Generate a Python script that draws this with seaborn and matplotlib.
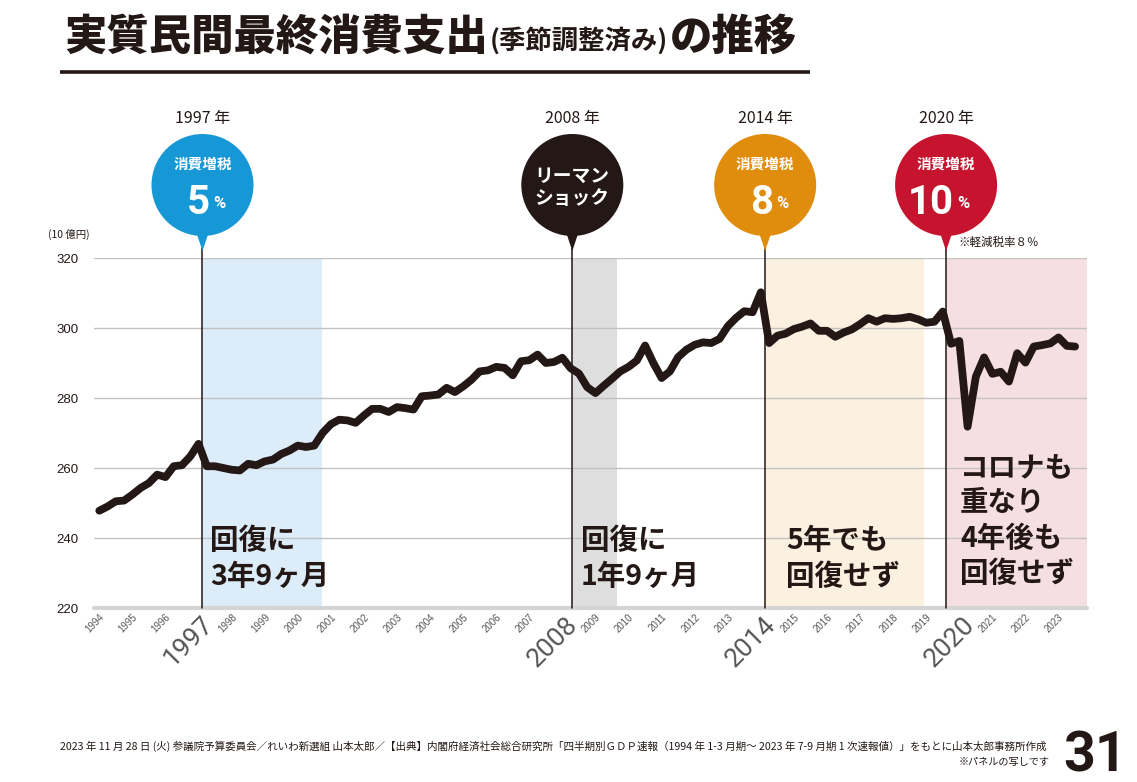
import numpy as np
import pandas as pd
import matplotlib
matplotlib.use("Agg")
import matplotlib.pyplot as plt
from matplotlib.patches import Circle, Polygon
import seaborn as sns

# ---------------- data ----------------
start_year = 1994
consumption = [
    247.8, 249.0, 250.5, 250.7, 252.4, 254.3, 255.7, 258.1, 257.4, 260.5,
    260.8, 263.3, 266.9, 260.5, 260.5, 260.0, 259.5, 259.3, 261.2, 260.8,
    261.9, 262.4, 264.0, 265.0, 266.4, 266.0, 266.4, 270.0, 272.5, 273.8,
    273.6, 272.9, 275.0, 276.9, 276.9, 276.0, 277.4, 277.1, 276.7, 280.5,
    280.7, 281.0, 282.9, 281.7, 283.3, 285.2, 287.6, 287.9, 288.9, 288.6,
    286.5, 290.5, 290.8, 292.4, 290.0, 290.3, 291.5, 288.5, 287.0, 283.1,
    281.4, 283.5, 285.5, 287.6, 288.9, 290.7, 295.0, 290.0, 285.7, 287.6,
    291.7, 293.8, 295.2, 295.9, 295.7, 296.9, 300.5, 302.9, 304.8, 304.5,
    310.2, 295.7, 297.8, 298.4, 299.7, 300.4, 301.3, 299.2, 299.2, 297.5,
    298.7, 299.6, 301.1, 302.8, 301.8, 302.8, 302.6, 302.8, 303.2, 302.5,
    301.5, 301.8, 304.7, 295.5, 296.3, 271.8, 286.1, 291.6, 286.9, 287.5,
    284.7, 292.8, 290.1, 294.7, 295.1, 295.6, 297.3, 294.9, 294.7,
]
tick_years = list(range(1994, 2024))
highlight_years = [1997, 2008, 2014, 2020]
y_ticks = [220, 240, 260, 280, 300, 320]

event_x = [1997.12, 2008.30, 2014.13, 2019.60]
event_end = [2000.72, 2009.66, 2018.93, 2023.86]
event_year_labels = ["1997 年", "2008 年", "2014 年", "2020 年"]
bubble_top = ["消費増税", "リーマン", "消費増税", "消費増税"]
bubble_main = ["5", "ショック", "8", "10"]
shade_colors = ["#dcecf8", "#dedede", "#fbf1e0", "#f6dfe3"]
bubble_colors = ["#1798d6", "#231815", "#e08c0c", "#c6132e"]
notes = ["回復に\n3年9ヶ月", "回復に\n1年9ヶ月", "5年でも\n回復せず", "コロナも\n重なり\n4年後も\n回復せず"]

title_main = "実質民間最終消費支出"
title_paren = "(季節調整済み)"
title_tail = "の推移"
footnote = ("2023 年 11 月 28 日 (火) 参議院予算委員会／れいわ新選組 山本太郎／【出典】内閣府経済社会総合研究所"
            "「四半期別ＧＤＰ速報（1994 年 1-3 月期～ 2023 年 7-9 月期 1 次速報値）」をもとに山本太郎事務所作成")
footnote2 = "※パネルの写しです"
page_no = "31"

# ---------------- style ----------------
sns.set_theme(style="white")
FAM = ["Noto Sans CJK JP", "DejaVu Sans"]
plt.rcParams["font.family"] = FAM
DARK = "#231815"
NUM = ["Roboto", "DejaVu Sans"]

W, H = 1137, 782
fig = plt.figure(figsize=(W / 100, H / 100), dpi=100)
fig.patch.set_facecolor("white")
L, R, T, B = 94, 1087, 258, 608
ax = fig.add_axes([L / W, 1 - B / H, (R - L) / W, (B - T) / H])
ov = fig.add_axes([0, 0, 1, 1], zorder=5)
ov.set_xlim(0, W)
ov.set_ylim(H, 0)
ov.axis("off")
ov.patch.set_alpha(0)

xmin, xmax = 1993.84, 2023.86
df = pd.DataFrame({
    "year": start_year + np.arange(len(consumption)) / 4.0,
    "value": consumption,
})

for x0, x1, c in zip(event_x, event_end, shade_colors):
    ax.axvspan(x0, x1, color=c, lw=0, zorder=0.2)
for x0 in event_x:
    ax.axvline(x0, ymin=0, ymax=1.03, color=DARK, lw=1.1, zorder=2, clip_on=False)

sns.lineplot(data=df, x="year", y="value", ax=ax, color=DARK, lw=5.6,
             solid_joinstyle="round", solid_capstyle="round", zorder=4)

ax.set_xlim(xmin, xmax)
ax.set_ylim(220, 320)
ax.set_yticks(y_ticks)
ax.set_yticklabels([str(v) for v in y_ticks], fontsize=9.5,
                   family=["Liberation Sans", "DejaVu Sans"], color=DARK)
ax.grid(axis="y", color="#c2c2c2", lw=1)
ax.grid(axis="x", visible=False)
ax.set_axisbelow(True)
for s in ax.spines.values():
    s.set_visible(False)
ax.axhline(220, color="#d4d4d4", lw=3, zorder=1, clip_on=False)
ax.set_xlabel("")
ax.set_ylabel("")
ax.tick_params(axis="y", length=0, pad=11)
ax.tick_params(axis="x", length=0, pad=3)

xt = [y + (0.08 if y in highlight_years else 0.0) for y in tick_years]
ax.set_xticks(xt)
ax.set_xticklabels([str(y) for y in tick_years])
for lab, y in zip(ax.get_xticklabels(), tick_years):
    lab.set_rotation(45)
    lab.set_ha("right")
    lab.set_va("top")
    lab.set_rotation_mode("anchor")
    if y in highlight_years:
        lab.set_fontsize(19)
        lab.set_family(NUM)
        lab.set_weight("normal")
        lab.set_color("#555555")
    else:
        lab.set_fontsize(7)
        lab.set_family(["Liberation Sans", "DejaVu Sans"])
        lab.set_color("#555555")


def xpx(x):
    return L + (x - xmin) / (xmax - xmin) * (R - L)


# bubbles and year labels
cy, r = 185, 51
for i, x0 in enumerate(event_x):
    px = xpx(x0)
    col = bubble_colors[i]
    ov.add_patch(Circle((px, cy), r, color=col, lw=0))
    ov.add_patch(Polygon([(px - 9, cy + r - 12), (px + 9, cy + r - 12), (px, 251)],
                         closed=True, color=col, lw=0))
    ov.text(px, 118, event_year_labels[i], ha="center", va="center",
            fontsize=11.5, color=DARK)
    if i == 1:
        ov.text(px, 176, bubble_top[i], ha="center", va="center", fontsize=13.5,
                color="white", weight="bold")
        ov.text(px, 199, bubble_main[i], ha="center", va="center", fontsize=13.5,
                color="white", weight="bold")
    else:
        ov.text(px, 164, bubble_top[i], ha="center", va="center", fontsize=10.5,
                color="white", weight="bold")
        ov.text(px + 8, 214, bubble_main[i], ha="right", va="baseline",
                fontsize=29, color="white", weight="bold", family=NUM)
        ov.text(px + 11, 208, "%", ha="left", va="baseline", fontsize=12,
                color="white", weight="bold", family=NUM)

ov.text(48, 234, "(10 億円)", ha="left", va="center", fontsize=7.5, color=DARK)
ov.text(958, 242, "※軽減税率８％", ha="left", va="center", fontsize=8.3, color=DARK)

# annotations inside chart
note_pos = [(210, 559), (581, 559), (786, 559), (960, 521)]
for (nx, ny), txt in zip(note_pos, notes):
    ov.text(nx, ny, txt, ha="left", va="center", fontsize=20.5, weight="bold",
            color=DARK, linespacing=1.33)

# title
rend = fig.canvas.get_renderer()
t1 = ov.text(64, 37, title_main, ha="left", va="center", fontsize=30.5,
             weight="heavy", color=DARK)
bb = t1.get_window_extent(rend)
t2 = fig.text((bb.x1 + 2) / W, 1 - 41 / H, title_paren, ha="left", va="center",
              fontsize=19, weight="bold", color=DARK)
bb2 = t2.get_window_extent(rend)
fig.text((bb2.x1 + 2) / W, 1 - 37 / H, title_tail, ha="left", va="center",
         fontsize=30.5, weight="heavy", color=DARK)
ov.plot([60, 810], [72, 72], color=DARK, lw=2.6, solid_capstyle="butt")

# footnote
ov.text(60, 746, footnote, ha="left", va="center", fontsize=7.6, color=DARK)
ov.text(1050, 762, footnote2, ha="right", va="center", fontsize=7.3, color=DARK)
ov.text(1127, 771, page_no, ha="right", va="baseline", fontsize=40, weight="bold",
        color=DARK, family=NUM)

fig.savefig("out.png", dpi=100, facecolor="white")
